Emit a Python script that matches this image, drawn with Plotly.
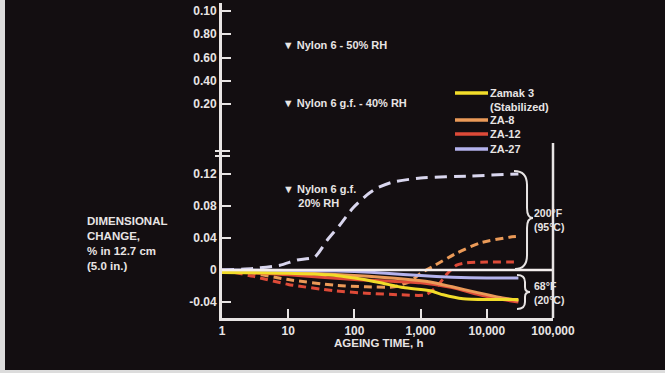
import plotly.graph_objects as go

# ---------------- data ----------------
# 95 °C (200 °F) curves, dashed
za27_hot_t = [1, 3, 7.5, 13.6, 25, 39, 60, 95, 155, 220, 380, 1000, 5600, 30000]
za27_hot_v = [0, 0.002, 0.006, 0.0125, 0.016, 0.0375, 0.056, 0.0775, 0.094, 0.1025, 0.11, 0.115, 0.1175, 0.12]
za8_hot_t = [1, 3, 10, 50, 150, 400, 700, 1000, 1500, 3500, 8000, 22000, 30000]
za8_hot_v = [0, -0.004, -0.012, -0.019, -0.021, -0.021, -0.014, -0.004, 0.004, 0.021, 0.034, 0.041, 0.042]
za12_hot_t = [1, 3, 10, 50, 150, 500, 1200, 1800, 2500, 3500, 5000, 10000, 30000]
za12_hot_v = [0, -0.008, -0.018, -0.026, -0.029, -0.031, -0.031, -0.02, -0.005, 0.006, 0.009, 0.010, 0.010]

# 20 °C (68 °F) curves, solid
za27_cold_t = [1, 30, 100, 300, 1000, 3000, 10000, 30000]
za27_cold_v = [0, -0.001, -0.002, -0.004, -0.007, -0.009, -0.010, -0.010]
za12_cold_t = [1, 10, 100, 1000, 3000, 7000, 15000, 30000]
za12_cold_v = [-0.002, -0.006, -0.012, -0.016, -0.022, -0.030, -0.036, -0.040]
za8_cold_t = [1, 10, 100, 500, 1400, 3000, 7000, 15000, 30000]
za8_cold_v = [-0.001, -0.003, -0.007, -0.011, -0.015, -0.021, -0.028, -0.034, -0.038]
zamak3_t = [1, 10, 40, 100, 250, 550, 1400, 2200, 4400, 10000, 14000, 30000]
zamak3_v = [-0.003, -0.004, -0.006, -0.010, -0.016, -0.022, -0.026, -0.031, -0.036, -0.037, -0.037, -0.037]

# axis ticks
x_tickvals = [1, 10, 100, 1000, 10000, 100000]
x_ticktext = ["1", "10", "100", "1,000", "10,000", "100,000"]
low_tickvals = [-0.04, 0, 0.04, 0.08, 0.12]
low_ticktext = ["-0.04", "0", "0.04", "0.08", "0.12"]
up_tickvals = [0.2, 0.4, 0.6, 0.8, 1.0]
up_ticktext = ["0.20", "0.40", "0.60", "0.80", "0.10"]

legend_names = ["Zamak 3<br>(Stabilized)", "ZA-8", "ZA-12", "ZA-27"]
legend_colors = ["#f2dc2a", "#eb9a58", "#de4a38", "#b4b2ec"]

nylon_labels = ["▼ Nylon 6 - 50% RH", "▼ Nylon 6 g.f. - 40% RH"]
nylon_time = [8.3, 8.3]
nylon_values = [0.70, 0.20]

# ---------------- styling ----------------
BG = "#130e11"
FG = "#e8e4e4"
YEL, ORA, RED, LAV = "#f2dc2a", "#eb9a58", "#de4a38", "#b4b2ec"
LAVD = "#d9d6ee"

W, H = 665, 373
L, R, T, B = 222, 112, 3, 55
PW, PH = W - L - R, H - T - B


def px(x):
    return (x - L) / PW


def py(y):
    return (H - B - y) / PH


split = py(152)

fig = go.Figure()


def add(t, v, color, dash, width=3):
    fig.add_trace(go.Scatter(x=t, y=v, mode="lines", showlegend=False,
                             line=dict(color=color, width=width, dash=dash, shape="spline", smoothing=0.6),
                             hoverinfo="skip"))


add(za12_hot_t, za12_hot_v, RED, "8px,5px")
add(za8_hot_t, za8_hot_v, ORA, "8px,5px")
add(za27_hot_t, za27_hot_v, LAVD, "12px,7px")
add(za12_cold_t, za12_cold_v, RED, "solid")
add(za8_cold_t, za8_cold_v, ORA, "solid")
add(za27_cold_t, za27_cold_v, LAV, "solid")
add(zamak3_t, zamak3_v, YEL, "solid")

# Nylon labels on the upper axis
fig.add_trace(go.Scatter(x=nylon_time, y=nylon_values, yaxis="y2", mode="text",
                         text=nylon_labels, textposition="middle right",
                         textfont=dict(size=11, color=FG), showlegend=False, hoverinfo="skip"))

axis_common = dict(showgrid=False, zeroline=False, showline=True, linecolor=FG, linewidth=3,
                   ticks="inside", ticklen=9, tickwidth=2, tickcolor=FG,
                   tickfont=dict(size=12, color=FG))

fig.update_layout(
    width=W, height=H,
    margin=dict(l=L, r=R, t=T, b=B),
    paper_bgcolor=BG, plot_bgcolor=BG,
    font=dict(family="Liberation Sans, Arial, sans-serif", color=FG, weight="bold"),
    showlegend=False,
    xaxis=dict(type="log", range=[0, 5], tickvals=x_tickvals, ticktext=x_ticktext,
               anchor="y", **axis_common),
    yaxis=dict(domain=[0, split], range=[-0.06, 0.1475], tickvals=low_tickvals,
               ticktext=low_ticktext, anchor="x", **axis_common),
    yaxis2=dict(domain=[split, 1], range=[-0.213, 1.069], tickvals=up_tickvals,
                ticktext=up_ticktext, anchor="x", **axis_common),
)

shapes = []
# zero reference line
shapes.append(dict(type="line", xref="x domain", yref="y", x0=0, x1=1, y0=0, y1=0,
                   line=dict(color="#f4eeee", width=2.5)))
# right frame line
shapes.append(dict(type="line", xref="x domain", yref="paper", x0=1, x1=1, y0=0, y1=py(143),
                   line=dict(color=FG, width=2.5)))
# axis break marks
for yy in (151, 156):
    shapes.append(dict(type="line", xref="paper", yref="paper", x0=px(215), x1=px(230),
                       y0=py(yy), y1=py(yy), line=dict(color=FG, width=2)))


def pth(pts):
    s = ""
    for cmd, coords in pts:
        s += cmd + " " + " ".join(f"{px(coords[i]):.4f},{py(coords[i+1]):.4f}" for i in range(0, len(coords), 2)) + " "
    return s.strip()


brace1 = pth([("M", (514, 171)), ("Q", (527, 171, 527, 185)), ("L", (527, 208)),
              ("Q", (527, 218, 533, 218)), ("Q", (527, 218, 527, 228)), ("L", (527, 255)),
              ("Q", (527, 269, 515, 269))])
brace2 = pth([("M", (517, 275)), ("Q", (525, 275, 525, 282)), ("L", (525, 287)),
              ("Q", (525, 292, 530, 292)), ("Q", (525, 292, 525, 297)), ("L", (525, 302)),
              ("Q", (525, 309, 517, 309))])
for b in (brace1, brace2):
    shapes.append(dict(type="path", xref="paper", yref="paper", path=b,
                       line=dict(color=FG, width=2)))

# legend sample lines
leg_y = [93, 120, 134, 149]
for yy, c in zip(leg_y, legend_colors):
    shapes.append(dict(type="line", xref="paper", yref="paper", x0=px(455), x1=px(488),
                       y0=py(yy), y1=py(yy), line=dict(color=c, width=3.5)))

# image border (left and bottom)
shapes.append(dict(type="rect", xref="paper", yref="paper", x0=px(-2), x1=px(5), y0=py(375), y1=py(-2),
                   fillcolor="#dcdcdc", line=dict(width=0), layer="above"))
shapes.append(dict(type="rect", xref="paper", yref="paper", x0=px(-2), x1=px(667), y0=py(375), y1=py(370),
                   fillcolor="#dcdcdc", line=dict(width=0), layer="above"))
fig.update_layout(shapes=shapes)

ann = []
leg_text_y = [99.5, 120, 134, 149]
for yy, name in zip(leg_text_y, legend_names):
    ann.append(dict(xref="paper", yref="paper", x=px(488), y=py(yy), text=name, showarrow=False,
                    xanchor="left", yanchor="middle", align="left", font=dict(size=11, color=FG)))

ann.append(dict(xref="paper", yref="paper", x=px(281), y=py(196),
                text="▼ Nylon 6 g.f.<br>     20% RH", showarrow=False, xanchor="left",
                yanchor="middle", align="left", font=dict(size=11, color=FG)))
ann.append(dict(xref="paper", yref="paper", x=px(532), y=py(220), text="200°F<br>(95°C)",
                showarrow=False, xanchor="left", yanchor="middle", align="left",
                font=dict(size=10.5, color=FG)))
ann.append(dict(xref="paper", yref="paper", x=px(532), y=py(293), text="68°F<br>(20°C)",
                showarrow=False, xanchor="left", yanchor="middle", align="left",
                font=dict(size=10.5, color=FG)))
ann.append(dict(xref="paper", yref="paper", x=px(85), y=py(244),
                text="DIMENSIONAL<br>CHANGE,<br>% in 12.7 cm<br>(5.0 in.)", showarrow=False,
                xanchor="left", yanchor="middle", align="left", font=dict(size=11.5, color=FG)))
ann.append(dict(xref="paper", yref="paper", x=px(378), y=py(343), text="AGEING TIME, h",
                showarrow=False, xanchor="center", yanchor="middle", font=dict(size=11.5, color=FG)))
fig.update_layout(annotations=ann)

fig.write_html("out.html", config={"displayModeBar": False},
               post_script="document.body.style.margin='0';document.body.style.background='#130e11';")
